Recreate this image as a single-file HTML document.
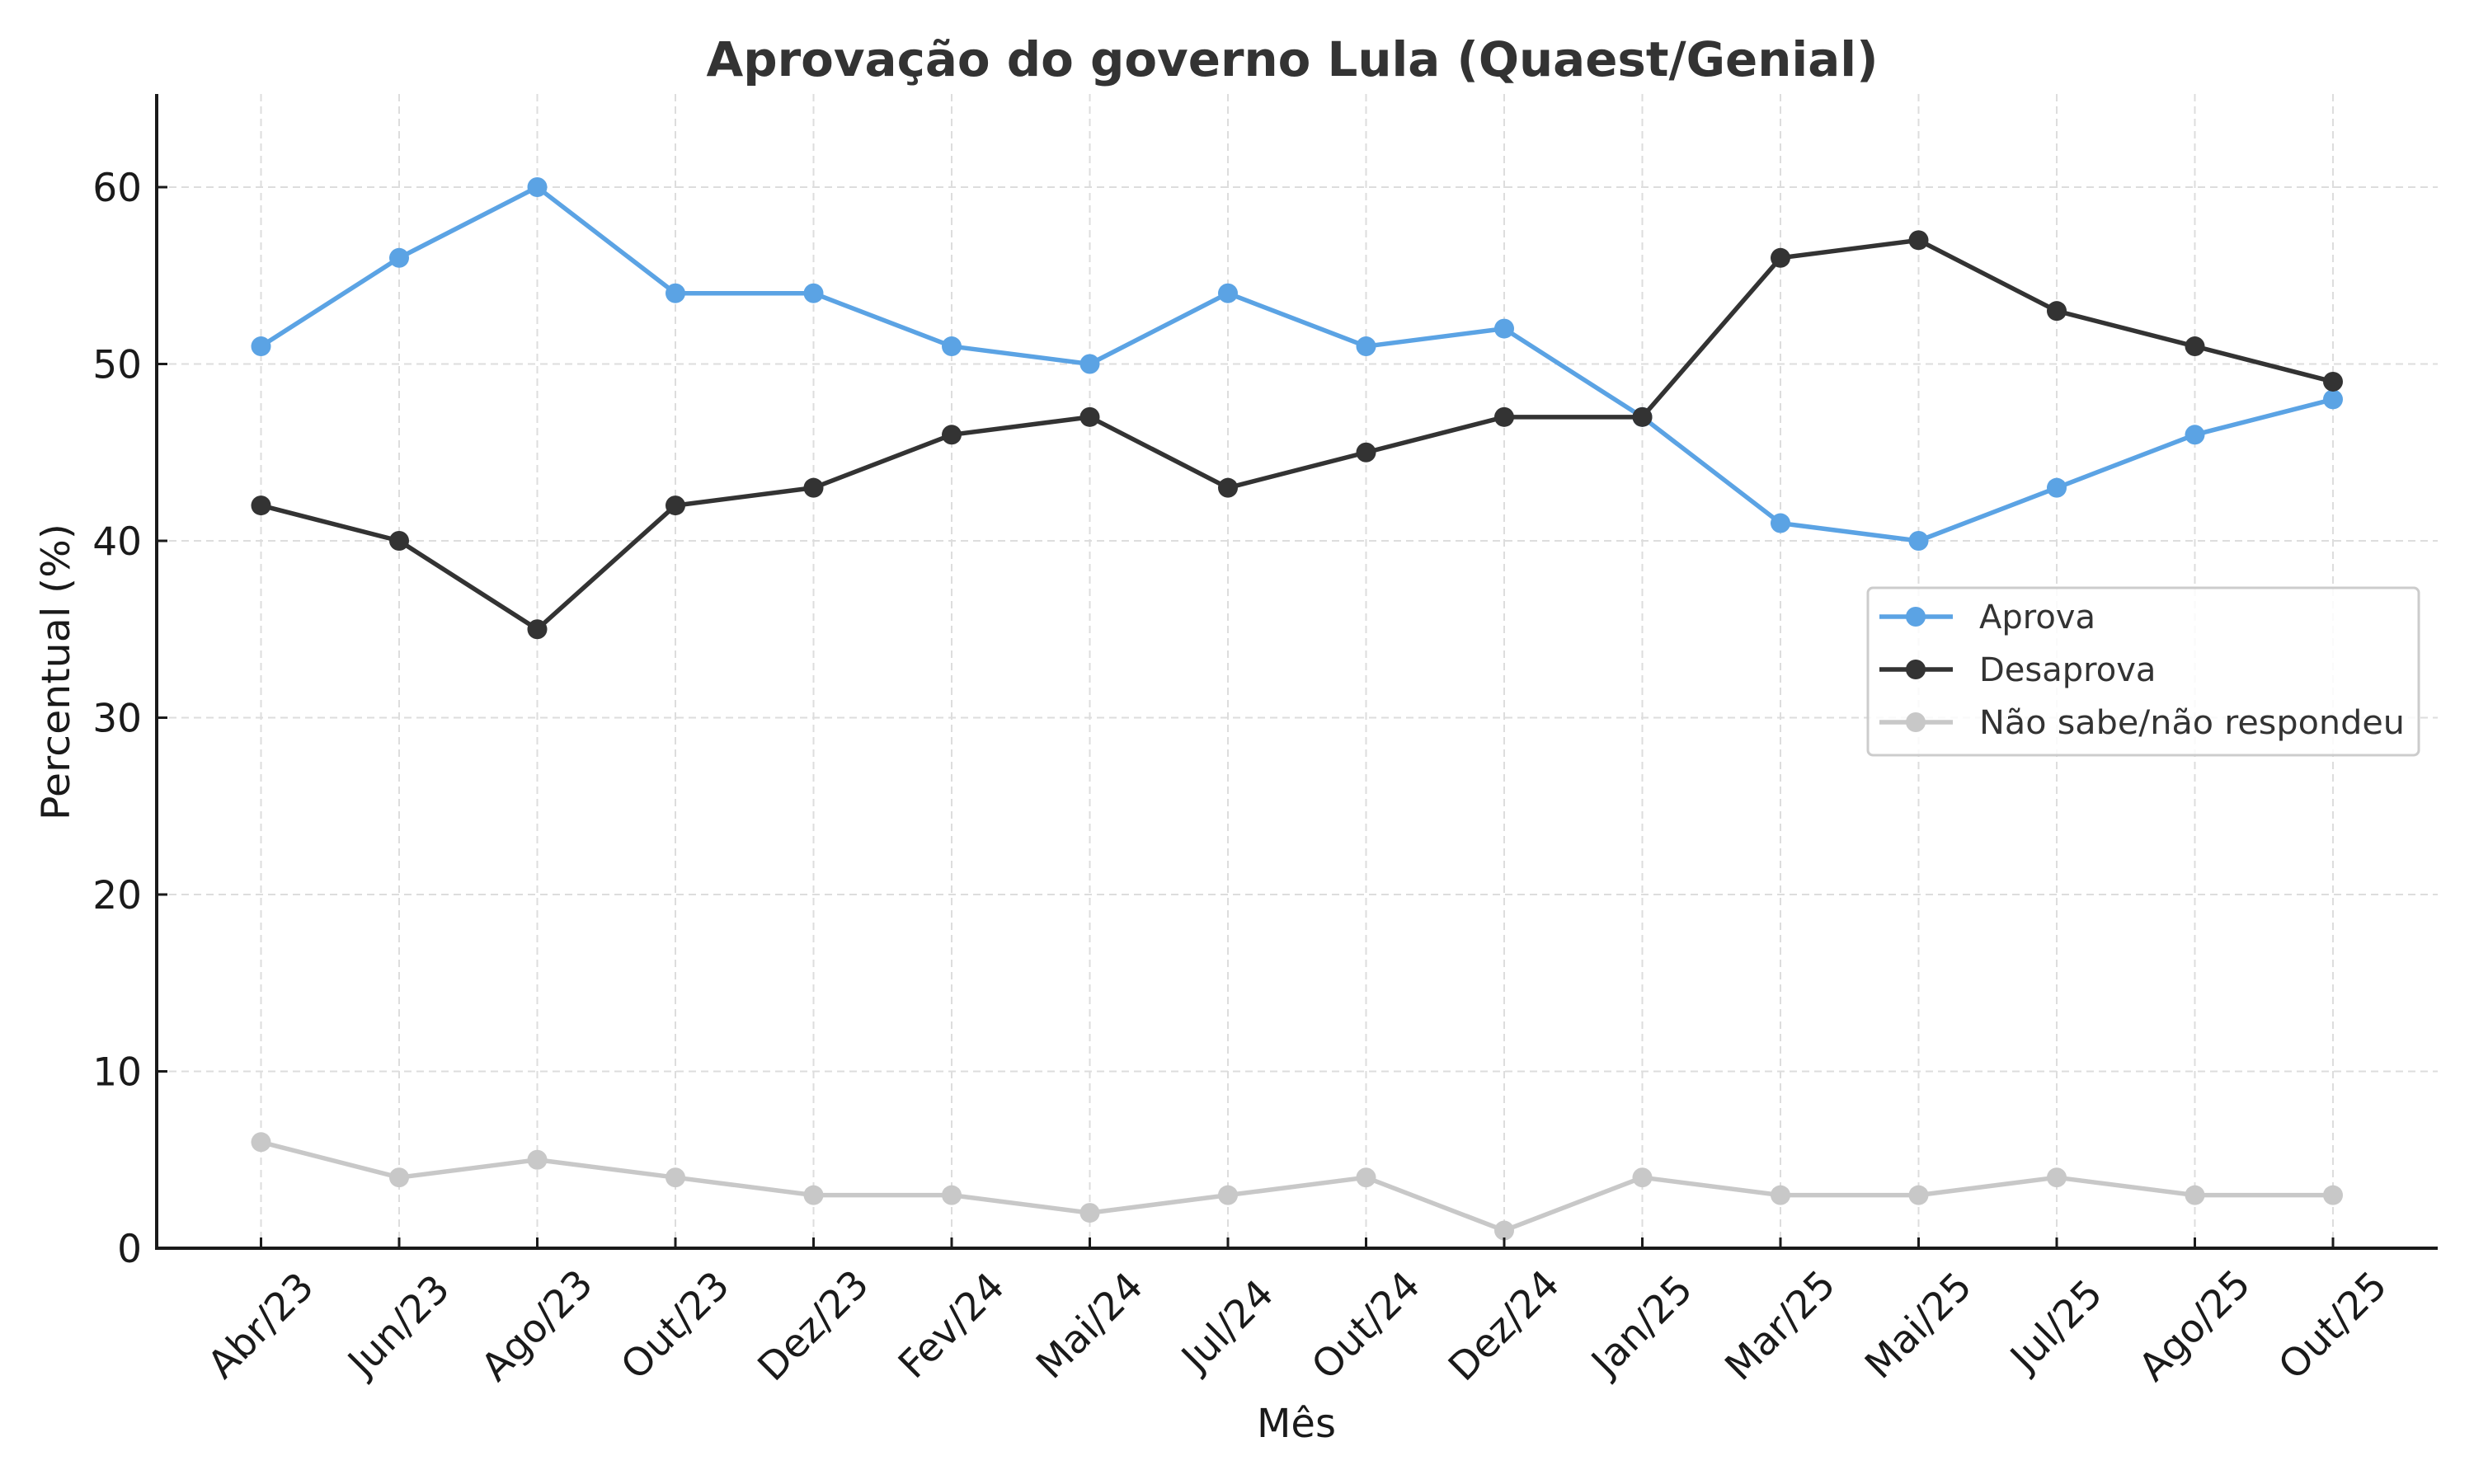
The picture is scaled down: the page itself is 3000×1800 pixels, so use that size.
<!DOCTYPE html>
<html><head><meta charset="utf-8"><style>
html,body{margin:0;padding:0;background:#fff;}
svg{display:block;font-family:"DejaVu Sans","Liberation Sans",sans-serif;}
</style></head><body>
<svg width="3000" height="1800" viewBox="0 0 3000 1800" xmlns="http://www.w3.org/2000/svg">
<rect width="3000" height="1800" fill="#fff"/>
<g id="grid" stroke="#dddddd" stroke-width="2" stroke-dasharray="9,6"></g>
<g id="series"></g>
<line x1="190" y1="114" x2="190" y2="1515" stroke="#1a1a1a" stroke-width="4"/>
<line x1="188" y1="1514" x2="2956" y2="1514" stroke="#1a1a1a" stroke-width="4"/>
<g id="ticks" stroke="#1a1a1a" stroke-width="3"></g>
<g id="ylabels" font-size="47" fill="#1a1a1a" text-anchor="end"></g>
<g id="xlabels" font-size="47" fill="#1a1a1a" text-anchor="middle"></g>
<text x="1567" y="92" font-size="58" font-weight="bold" fill="#333" text-anchor="middle" textLength="1421" lengthAdjust="spacingAndGlyphs">Aprovação do governo Lula (Quaest/Genial)</text>
<text x="1572" y="1743" font-size="48" fill="#1a1a1a" text-anchor="middle">Mês</text>
<text transform="translate(84,815) rotate(-90)" font-size="47" fill="#1a1a1a" text-anchor="middle" textLength="360" lengthAdjust="spacingAndGlyphs">Percentual (%)</text>
<g id="legend">
<rect x="2265" y="713" width="668" height="203" rx="6" fill="#fff" fill-opacity="0.85" stroke="#cccccc" stroke-width="3"/>
<line x1="2279" y1="748" x2="2368" y2="748" stroke="#5ba3e4" stroke-width="5.5"/><circle cx="2323" cy="748" r="12" fill="#5ba3e4"/>
<line x1="2279" y1="812" x2="2368" y2="812" stroke="#333" stroke-width="5.5"/><circle cx="2323" cy="812" r="12" fill="#333"/>
<line x1="2279" y1="876" x2="2368" y2="876" stroke="#c8c8c8" stroke-width="5.5"/><circle cx="2323" cy="876" r="12" fill="#c8c8c8"/>
<text x="2400" y="762" font-size="40" fill="#333">Aprova</text>
<text x="2400" y="826" font-size="40" fill="#333">Desaprova</text>
<text x="2400" y="890" font-size="40" fill="#333" textLength="516" lengthAdjust="spacingAndGlyphs">Não sabe/não respondeu</text>
</g>
<script>
var NS="http://www.w3.org/2000/svg";
function el(p,t,a,txt){var e=document.createElementNS(NS,t);for(var k in a)e.setAttribute(k,a[k]);if(txt!=null)e.textContent=txt;document.getElementById(p).appendChild(e);return e;}
var x0=316.5,dx=167.5,y0=1514,u=21.45;
function X(i){return x0+i*dx;}function Y(v){return y0-v*u;}
var labs=["Abr/23","Jun/23","Ago/23","Out/23","Dez/23","Fev/24","Mai/24","Jul/24","Out/24","Dez/24","Jan/25","Mar/25","Mai/25","Jul/25","Ago/25","Out/25"];
for(var i=0;i<16;i++){
 el("grid","line",{x1:X(i),y1:114,x2:X(i),y2:1514});
 el("ticks","line",{x1:X(i),y1:1514,x2:X(i),y2:1501});
 el("xlabels","text",{transform:"translate("+X(i)+",1608) rotate(-45)","dominant-baseline":"central"},labs[i]);
}
for(var v=0;v<=60;v+=10){
 if(v>0)el("grid","line",{x1:190,y1:Y(v),x2:2956,y2:Y(v)});
 el("ticks","line",{x1:190,y1:Y(v),x2:203,y2:Y(v)});
 el("ylabels","text",{x:172,y:Y(v)+17},String(v));
}
var S=[
 {c:"#5ba3e4",d:[51,56,60,54,54,51,50,54,51,52,47,41,40,43,46,48]},
 {c:"#333333",d:[42,40,35,42,43,46,47,43,45,47,47,56,57,53,51,49]},
 {c:"#c8c8c8",d:[6,4,5,4,3,3,2,3,4,1,4,3,3,4,3,3]}];
S.forEach(function(s){
 var pts=s.d.map(function(v,i){return X(i)+","+Y(v);}).join(" ");
 el("series","polyline",{points:pts,fill:"none",stroke:s.c,"stroke-width":5.5,"stroke-linejoin":"round"});
 s.d.forEach(function(v,i){el("series","circle",{cx:X(i),cy:Y(v),r:12,fill:s.c});});
});
</script>
</svg>
</body></html>
